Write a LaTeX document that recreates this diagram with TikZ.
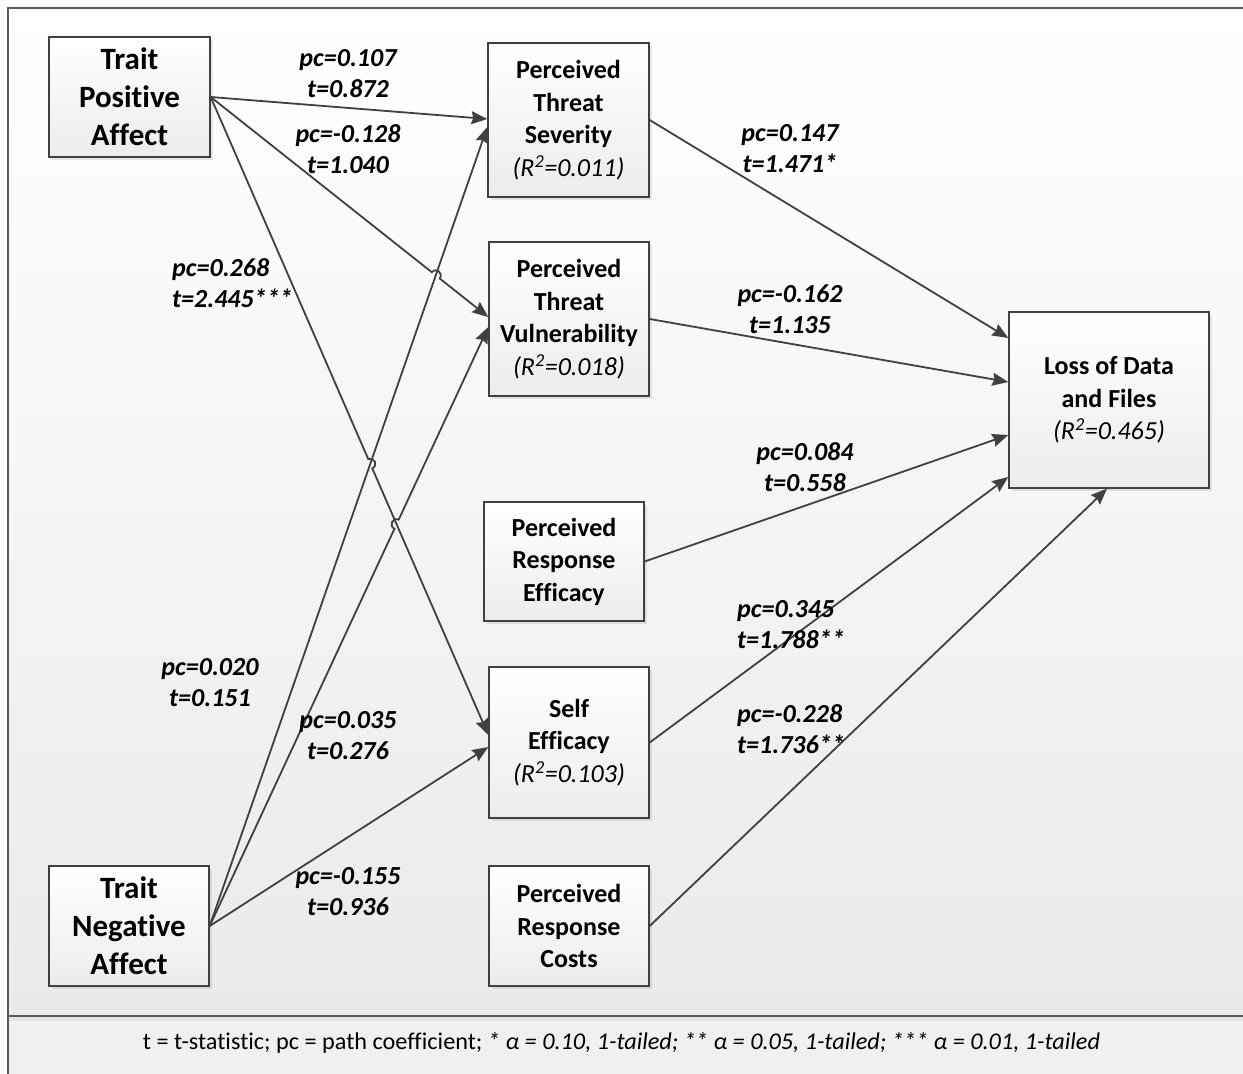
\documentclass[tikz,border=0pt]{standalone}
\usepackage{graphicx}
\usepackage{fontspec}
\setmainfont{Carlito}[Ligatures=NoCommon]
\usetikzlibrary{arrows.meta,calc,intersections,shadows}
\definecolor{lc}{HTML}{404040}
\definecolor{fr}{HTML}{5A5A5A}
\definecolor{bgb}{HTML}{EAEAEA}
\definecolor{boxb}{HTML}{ECECEC}
\definecolor{ft}{HTML}{F0F0F0}
\begin{document}
\begin{tikzpicture}[x=1pt,y=-1pt,
  box/.style={draw=lc, line width=1.4pt, top color=white, bottom color=boxb, align=center,
    inner sep=0pt, font=\fontsize{26}{32.5}\selectfont\bfseries,
    drop shadow={shadow xshift=2.5pt, shadow yshift=-2.5pt, opacity=0.18}},
  bigbox/.style={box, font=\fontsize{31}{38}\selectfont\bfseries},
  conn/.style={draw=lc, line width=1.8pt, -{Stealth[length=16pt,width=13pt,inset=2pt]}},
  lab/.style={font=\fontsize{26}{31}\selectfont\bfseries\itshape, align=center, inner sep=0pt},
  labl/.style={lab, align=left, anchor=west},
  hop/.style={bend left=90, looseness=1.7}
]
\useasboundingbox (0,0) rectangle (1243,1074);
% background and frame
\fill[white] (0,0) rectangle (1243,1074);
\shade[top color=white, bottom color=bgb] (8,8) rectangle (1246,1016);
\fill[ft] (8,1016) rectangle (1246,1080);
\fill[gray!22] (8,1017) rectangle (1246,1021);
\draw[fr, line width=2pt] (8,1080) -- (8,8) -- (1246,8);
\draw[fr, line width=2pt] (8,1016) -- (1246,1016);

% nodes
\node[bigbox, minimum width=161pt, minimum height=120pt] (tpa) at (129.5,97) {Trait\\Positive\\Affect};
\node[bigbox, minimum width=160pt, minimum height=120pt] (tna) at (129,926) {Trait\\Negative\\Affect};
\node[box, minimum width=161pt, minimum height=154pt] (pts) at (568.5,120) {Perceived\\Threat\\Severity\\{\mdseries\itshape (R\textsuperscript{2}=0.011)}};
\node[box, minimum width=160pt, minimum height=154pt] (ptv) at (569,319) {Perceived\\Threat\\Vulnerability\\{\mdseries\itshape (R\textsuperscript{2}=0.018)}};
\node[box, minimum width=160pt, minimum height=119pt] (pre) at (564,561.5) {Perceived\\Response\\Efficacy};
\node[box, minimum width=160pt, minimum height=151pt] (se) at (569,742.5) {Self\\Efficacy\\{\mdseries\itshape (R\textsuperscript{2}=0.103)}};
\node[box, minimum width=160pt, minimum height=120pt] (prc) at (569,926) {Perceived\\Response\\Costs};
\node[box, minimum width=200pt, minimum height=176pt] (loss) at (1109,400) {Loss of Data\\and Files\\{\mdseries\itshape (R\textsuperscript{2}=0.465)}};

% connector end points on the boxes
\coordinate (ptsA) at ([yshift=1pt]pts.west);
\coordinate (ptsB) at ([yshift=-7pt]pts.west);
\coordinate (ptvA) at ([yshift=2pt]ptv.west);
\coordinate (ptvB) at ([yshift=-8pt]ptv.west);
\coordinate (seA) at ([yshift=7.5pt]se.west);
\coordinate (seB) at ([yshift=-4.5pt]se.west);
\coordinate (lossA) at ([yshift=62pt]loss.west);
\coordinate (lossB) at ([yshift=18pt]loss.west);
\coordinate (lossC) at ([yshift=-35pt]loss.west);
\coordinate (lossD) at ([yshift=-77pt]loss.west);
\coordinate (lossE) at ([xshift=-2pt]loss.south);

% crossings
\path[name path=p2] (tpa.east) -- (ptvA);
\path[name path=p3] (tpa.east) -- (seA);
\path[name path=p4] (tna.east) -- (ptsB);
\path[name path=p5] (tna.east) -- (ptvB);
\path[name intersections={of=p2 and p4, by=h1}];
\path[name intersections={of=p3 and p4, by=h2}];
\path[name intersections={of=p5 and p3, by=h3}];

% connectors
\draw[conn] (tpa.east) -- (ptsA);
\draw[conn] (tpa.east) -- ($(h1)!5pt!(tpa.east)$) to[hop] ($(h1)!5pt!(ptvA)$) -- (ptvA);
\draw[conn] (tpa.east) -- ($(h2)!5pt!(tpa.east)$) to[hop] ($(h2)!5pt!(seA)$) -- (seA);
\draw[conn] (tna.east) -- (ptsB);
\draw[conn] (tna.east) -- ($(h3)!5pt!(tna.east)$) to[hop] ($(h3)!5pt!(ptvB)$) -- (ptvB);
\draw[conn] (tna.east) -- (seB);
\draw[conn] (pts.east) -- (lossA);
\draw[conn] (ptv.east) -- (lossB);
\draw[conn] (pre.east) -- (lossC);
\draw[conn] (se.east) -- (lossD);
\draw[conn] (prc.east) -- (lossE);

% labels
\node[lab] (l1) at (348,74) {pc=0.107\\t=0.872};
\node[lab] (l2) at (348,149) {pc=-0.128\\t=1.040};
\node[labl] (l3) at (172,283) {pc=0.268\\t=2.445***};
\node[lab] (l4) at (210,683) {pc=0.020\\t=0.151};
\node[lab] (l5) at (348,736) {pc=0.035\\t=0.276};
\node[lab] (l6) at (348,892) {pc=-0.155\\t=0.936};
\node[lab] (l7) at (790,149) {pc=0.147\\t=1.471*};
\node[lab] (l8) at (790,309) {pc=-0.162\\t=1.135};
\node[lab] (l9) at (805,467) {pc=0.084\\t=0.558};
\node[labl] (l10) at (737,625) {pc=0.345\\t=1.788**};
\node[labl] (l11) at (737,729) {pc=-0.228\\t=1.736**};

% footer
\node[inner sep=0pt] (foot) at (621.5,1043) {\resizebox{957pt}{\height}{\fontsize{24}{28}\selectfont t = t-statistic; pc = path coefficient; \textit{* α = 0.10, 1-tailed; ** α = 0.05, 1-tailed; *** α = 0.01, 1-tailed}}};
\end{tikzpicture}
\end{document}
